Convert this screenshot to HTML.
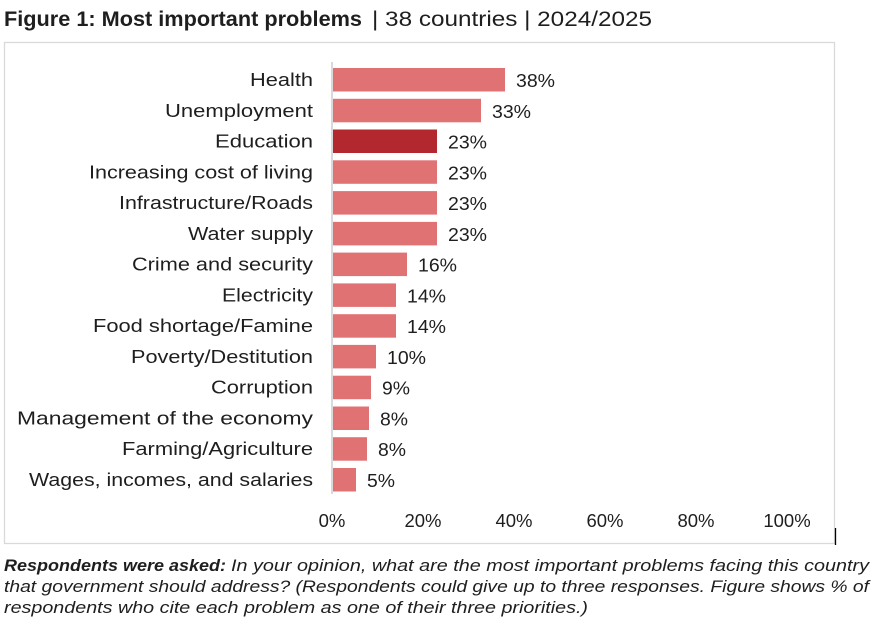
<!DOCTYPE html>
<html>
<head>
<meta charset="utf-8">
<style>
  html,body{margin:0;padding:0;background:#fff;}
  svg{display:block;}
  text{font-family:"Liberation Sans",Arial,sans-serif;fill:#1e1e1e;}
</style>
</head>
<body>
<svg width="886" height="622" viewBox="0 0 886 622" xmlns="http://www.w3.org/2000/svg">
  <rect x="0" y="0" width="886" height="622" fill="#fff"/>
  <!-- Title -->
  <text x="4" y="26" font-size="21" font-weight="bold" textLength="358" lengthAdjust="spacingAndGlyphs">Figure 1: Most important problems</text>
  <text x="372" y="26" font-size="21" textLength="280" lengthAdjust="spacingAndGlyphs">| 38 countries | 2024/2025</text>

  <!-- Frame -->
  <rect x="4.5" y="42.5" width="830" height="501" fill="none" stroke="#d9d9d9" stroke-width="1.3"/>
  <line x1="835.5" y1="528" x2="835.5" y2="545" stroke="#000" stroke-width="1.3"/>

  <!-- Axis line -->
  <line x1="332" y1="62" x2="332" y2="494" stroke="#d9d9d9" stroke-width="2"/>

  <!-- Bars -->
  <g>
    <rect x="333" y="68"    width="172" height="23.5" fill="#E07274"/>
    <rect x="333" y="98.8"  width="148" height="23.5" fill="#E07274"/>
    <rect x="333" y="129.5" width="104" height="23.5" fill="#B3272E"/>
    <rect x="333" y="160.3" width="104" height="23.5" fill="#E07274"/>
    <rect x="333" y="191.1" width="104" height="23.5" fill="#E07274"/>
    <rect x="333" y="221.9" width="104" height="23.5" fill="#E07274"/>
    <rect x="333" y="252.6" width="74"  height="23.5" fill="#E07274"/>
    <rect x="333" y="283.4" width="63"  height="23.5" fill="#E07274"/>
    <rect x="333" y="314.2" width="63"  height="23.5" fill="#E07274"/>
    <rect x="333" y="344.9" width="43"  height="23.5" fill="#E07274"/>
    <rect x="333" y="375.7" width="38"  height="23.5" fill="#E07274"/>
    <rect x="333" y="406.5" width="36"  height="23.5" fill="#E07274"/>
    <rect x="333" y="437.2" width="34"  height="23.5" fill="#E07274"/>
    <rect x="333" y="468"   width="23"  height="23.5" fill="#E07274"/>
  </g>

  <!-- Category labels -->
  <g font-size="18.5" text-anchor="start">
    <text x="250" y="86"    textLength="63"  lengthAdjust="spacingAndGlyphs">Health</text>
    <text x="165" y="116.8" textLength="148" lengthAdjust="spacingAndGlyphs">Unemployment</text>
    <text x="215" y="147.5" textLength="98"  lengthAdjust="spacingAndGlyphs">Education</text>
    <text x="89"  y="178.3" textLength="224" lengthAdjust="spacingAndGlyphs">Increasing cost of living</text>
    <text x="119" y="209.1" textLength="194" lengthAdjust="spacingAndGlyphs">Infrastructure/Roads</text>
    <text x="188" y="239.9" textLength="125" lengthAdjust="spacingAndGlyphs">Water supply</text>
    <text x="132" y="270.6" textLength="181" lengthAdjust="spacingAndGlyphs">Crime and security</text>
    <text x="222" y="301.4" textLength="91"  lengthAdjust="spacingAndGlyphs">Electricity</text>
    <text x="93"  y="332.2" textLength="220" lengthAdjust="spacingAndGlyphs">Food shortage/Famine</text>
    <text x="131" y="362.9" textLength="182" lengthAdjust="spacingAndGlyphs">Poverty/Destitution</text>
    <text x="211" y="393.7" textLength="102" lengthAdjust="spacingAndGlyphs">Corruption</text>
    <text x="17"  y="424.5" textLength="296" lengthAdjust="spacingAndGlyphs">Management of the economy</text>
    <text x="122" y="455.2" textLength="191" lengthAdjust="spacingAndGlyphs">Farming/Agriculture</text>
    <text x="29"  y="486"   textLength="284" lengthAdjust="spacingAndGlyphs">Wages, incomes, and salaries</text>
  </g>

  <!-- Value labels -->
  <g font-size="18.5">
    <text x="516" y="87"    textLength="39" lengthAdjust="spacingAndGlyphs">38%</text>
    <text x="492" y="117.8" textLength="39" lengthAdjust="spacingAndGlyphs">33%</text>
    <text x="448" y="148.5" textLength="39" lengthAdjust="spacingAndGlyphs">23%</text>
    <text x="448" y="179.3" textLength="39" lengthAdjust="spacingAndGlyphs">23%</text>
    <text x="448" y="210.1" textLength="39" lengthAdjust="spacingAndGlyphs">23%</text>
    <text x="448" y="240.9" textLength="39" lengthAdjust="spacingAndGlyphs">23%</text>
    <text x="418" y="271.6" textLength="39" lengthAdjust="spacingAndGlyphs">16%</text>
    <text x="407" y="302.4" textLength="39" lengthAdjust="spacingAndGlyphs">14%</text>
    <text x="407" y="333.2" textLength="39" lengthAdjust="spacingAndGlyphs">14%</text>
    <text x="387" y="363.9" textLength="39" lengthAdjust="spacingAndGlyphs">10%</text>
    <text x="382" y="394.7" textLength="28" lengthAdjust="spacingAndGlyphs">9%</text>
    <text x="380" y="425.5" textLength="28" lengthAdjust="spacingAndGlyphs">8%</text>
    <text x="378" y="456.2" textLength="28" lengthAdjust="spacingAndGlyphs">8%</text>
    <text x="367" y="487"   textLength="28" lengthAdjust="spacingAndGlyphs">5%</text>
  </g>

  <!-- X tick labels -->
  <g font-size="18.5" text-anchor="middle">
    <text x="332" y="527">0%</text>
    <text x="423" y="527">20%</text>
    <text x="514" y="527">40%</text>
    <text x="605" y="527">60%</text>
    <text x="696" y="527">80%</text>
    <text x="787" y="527">100%</text>
  </g>

  <!-- Caption -->
  <g font-size="16.5" font-style="italic">
    <text x="4" y="571" font-weight="bold" textLength="222" lengthAdjust="spacingAndGlyphs">Respondents were asked:</text>
    <text x="231" y="571" textLength="638" lengthAdjust="spacingAndGlyphs">In your opinion, what are the most important problems facing this country</text>
    <text x="4" y="592" textLength="865" lengthAdjust="spacingAndGlyphs">that government should address? (Respondents could give up to three responses. Figure shows % of</text>
    <text x="4" y="613" textLength="584" lengthAdjust="spacingAndGlyphs">respondents who cite each problem as one of their three priorities.)</text>
  </g>
</svg>
</body>
</html>
